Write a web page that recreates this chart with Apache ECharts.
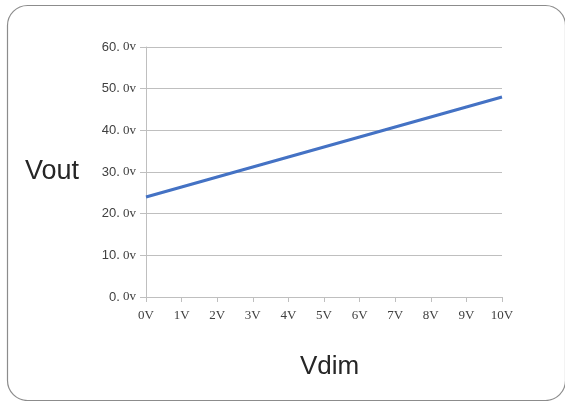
<!DOCTYPE html>
<html><head><meta charset="utf-8">
<script src="https://cdn.jsdelivr.net/npm/echarts@6/dist/echarts.min.js"></script>
<style>html,body{margin:0;padding:0;background:#fff}#c{width:565px;height:401px}</style>
</head><body><div id="c"></div>
<script>
var xValues = [0,1,2,3,4,5,6,7,8,9,10];
var vout = [24, 26.4, 28.8, 31.2, 33.6, 36, 38.4, 40.8, 43.2, 45.6, 48];
var yTicks = [0,10,20,30,40,50,60];

var chart = echarts.init(document.getElementById('c'));
chart.setOption({
  animation:false,
  graphic:[{type:'rect',left:5,top:3,shape:{x:0,y:0,width:558,height:395,r:20},style:{fill:'none',stroke:'#8c8c8c',lineWidth:1.2},silent:true}],
  grid:{left:146,right:63,top:47,bottom:104},
  xAxis:{type:'value',min:0,max:10,interval:1,
    name:'Vdim',nameLocation:'middle',nameGap:57,
    nameTextStyle:{fontSize:26,color:'#262626',fontFamily:'Liberation Sans',padding:[0,0,0,11]},
    axisLine:{lineStyle:{color:'#bfbfbf'}},
    axisTick:{show:true,length:5,lineStyle:{color:'#bfbfbf'}},
    splitLine:{show:false},
    axisLabel:{margin:12,color:'#404040',fontSize:13,fontFamily:'Liberation Serif',formatter:function(v){return v+'V';}}
  },
  yAxis:{type:'value',min:0,max:60,interval:10,
    name:'Vout',nameLocation:'middle',nameGap:67,nameRotate:0,
    nameTextStyle:{fontSize:27,color:'#262626',fontFamily:'Liberation Sans',padding:[8,0,0,0]},
    axisLine:{show:true,lineStyle:{color:'#bfbfbf'}},
    axisTick:{show:true,length:6,lineStyle:{color:'#bfbfbf'}},
    splitLine:{lineStyle:{color:'#bfbfbf'}},
    axisLabel:{margin:10,formatter:function(v){return '{a|'+v+'.}{b| 0v}';},
      rich:{a:{fontSize:13,color:'#404040',fontFamily:'Liberation Sans'},b:{fontSize:13,color:'#404040',fontFamily:'Liberation Serif'}}}
  },
  series:[{type:'line',data:xValues.map(function(x,i){return [x,vout[i]];}),
    showSymbol:false,lineStyle:{color:'#4472c4',width:3},itemStyle:{color:'#4472c4'}}]
});
</script></body></html>
